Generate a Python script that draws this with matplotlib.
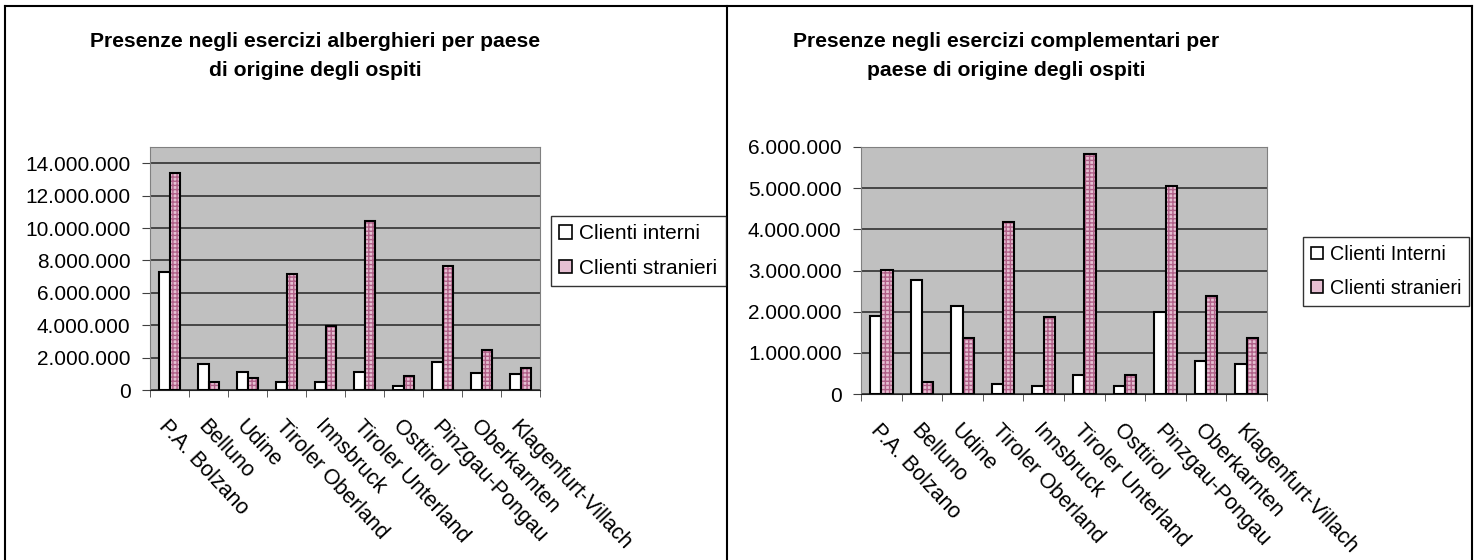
import matplotlib
matplotlib.use("Agg")
from matplotlib import pyplot as plt
from matplotlib.patches import Patch
from matplotlib.lines import Line2D
from matplotlib.ticker import FuncFormatter
import numpy as np

plt.rcParams['font.family'] = ['Liberation Sans', 'DejaVu Sans']

regioni = ["P.A. Bolzano", "Belluno", "Udine", "Tiroler Oberland", "Innsbruck",
           "Tiroler Unterland", "Osttirol", "Pinzgau-Pongau", "Oberkarnten",
           "Klagenfurt-Villach"]

# esercizi alberghieri
alb_interni = [7280000, 1590000, 1120000, 500000, 500000, 1120000, 230000, 1740000, 1020000, 970000]
alb_stranieri = [13400000, 480000, 730000, 7180000, 3970000, 10420000, 850000, 7670000, 2480000, 1360000]

# esercizi complementari
compl_interni = [1900000, 2770000, 2140000, 250000, 190000, 450000, 190000, 2000000, 800000, 740000]
compl_stranieri = [3020000, 290000, 1360000, 4190000, 1860000, 5840000, 450000, 5060000, 2390000, 1370000]

W, H = 1479, 560
fig = plt.figure(figsize=(W / 100, H / 100), dpi=100)

ROSA = '#e6bfd2'
PUNTI = '#b06088'


def px_axes(x0, x1, ytop, ybot):
    return fig.add_axes([x0 / W, 1 - ybot / H, (x1 - x0) / W, (ybot - ytop) / H])


def migliaia(v, pos):
    return f"{int(v):,}".replace(",", ".")


def grafico(ax, interni, stranieri, ymax, ystep, ylim_top):
    x = np.arange(len(regioni))
    w = 0.28
    ax.set_facecolor('#c0c0c0')
    ax.bar(x - w / 2, interni, w, color='white', edgecolor='black', linewidth=1.5, zorder=3)
    # pattern a scacchi per gli stranieri, poi il bordo nero sopra
    ax.bar(x + w / 2, stranieri, w, color=ROSA, edgecolor=PUNTI, hatch='++++', linewidth=0, zorder=3)
    ax.bar(x + w / 2, stranieri, w, fill=False, edgecolor='black', linewidth=1.5, zorder=4)
    ax.set_xlim(-0.5, len(regioni) - 0.5)
    ax.set_ylim(0, ylim_top)
    ax.set_yticks(np.arange(0, ymax + 1, ystep))
    ax.yaxis.set_major_formatter(FuncFormatter(migliaia))
    ax.grid(axis='y', color='#303030', linewidth=1.2, zorder=1)
    ax.set_axisbelow(True)
    ax.set_xticks(x)
    ax.set_xticklabels(regioni, rotation=-47, ha='left', va='top', rotation_mode='anchor')
    ax.set_xticks(np.arange(-0.5, len(regioni)), minor=True)
    ax.tick_params(axis='x', which='major', length=0, pad=19, labelsize=15.5)
    ax.tick_params(axis='x', which='minor', length=5, color='#404040', direction='out')
    ax.tick_params(axis='y', length=6, color='#404040', pad=8, labelsize=15)
    for s in ['left', 'top', 'right']:
        ax.spines[s].set_color('#808080')
    ax.spines['bottom'].set_color('#202020')


ax1 = px_axes(150, 540, 147, 390)
grafico(ax1, alb_interni, alb_stranieri, 14000000, 2000000, 15000000)

ax2 = px_axes(861, 1267, 147, 394)
grafico(ax2, compl_interni, compl_stranieri, 6000000, 1000000, 6000000)

# titoli
fig.text(315 / W, 1 - 47 / H, "Presenze negli esercizi alberghieri per paese",
         ha='center', va='baseline', fontsize=15.2, fontweight='bold')
fig.text(315 / W, 1 - 76 / H, "di origine degli ospiti",
         ha='center', va='baseline', fontsize=15.2, fontweight='bold')
fig.text(1006 / W, 1 - 47 / H, "Presenze negli esercizi complementari per",
         ha='center', va='baseline', fontsize=15.2, fontweight='bold')
fig.text(1006 / W, 1 - 76 / H, "paese di origine degli ospiti",
         ha='center', va='baseline', fontsize=15.2, fontweight='bold')


def legenda(label1, x0, ytop, size):
    handles = [Patch(facecolor='white', edgecolor='black', linewidth=1.2),
               Patch(facecolor=ROSA, edgecolor='black', linewidth=1.2)]
    leg = fig.legend(handles, [label1, "Clienti stranieri"], loc='upper left',
                     bbox_to_anchor=(x0 / W, 1 - ytop / H), bbox_transform=fig.transFigure,
                     borderaxespad=0, fontsize=size, frameon=True, fancybox=False,
                     handlelength=0.6, handleheight=0.6, handletextpad=0.35,
                     labelspacing=0.75, borderpad=0.4)
    leg.get_frame().set_edgecolor('black')
    leg.get_frame().set_linewidth(1.0)
    return leg


legenda("Clienti interni", 551, 216, 15)
legenda("Clienti Interni", 1303, 237, 14.2)

# cornici dei due riquadri
for xs, ys in [([5, 1472], [6, 6]), ([5, 5], [6, 560]), ([727, 727], [6, 560]),
               ([1472, 1472], [6, 560])]:
    fig.add_artist(Line2D([v / W for v in xs], [1 - v / H for v in ys],
                          transform=fig.transFigure, color='black', linewidth=1.5))

fig.savefig("out.png", dpi=100)
